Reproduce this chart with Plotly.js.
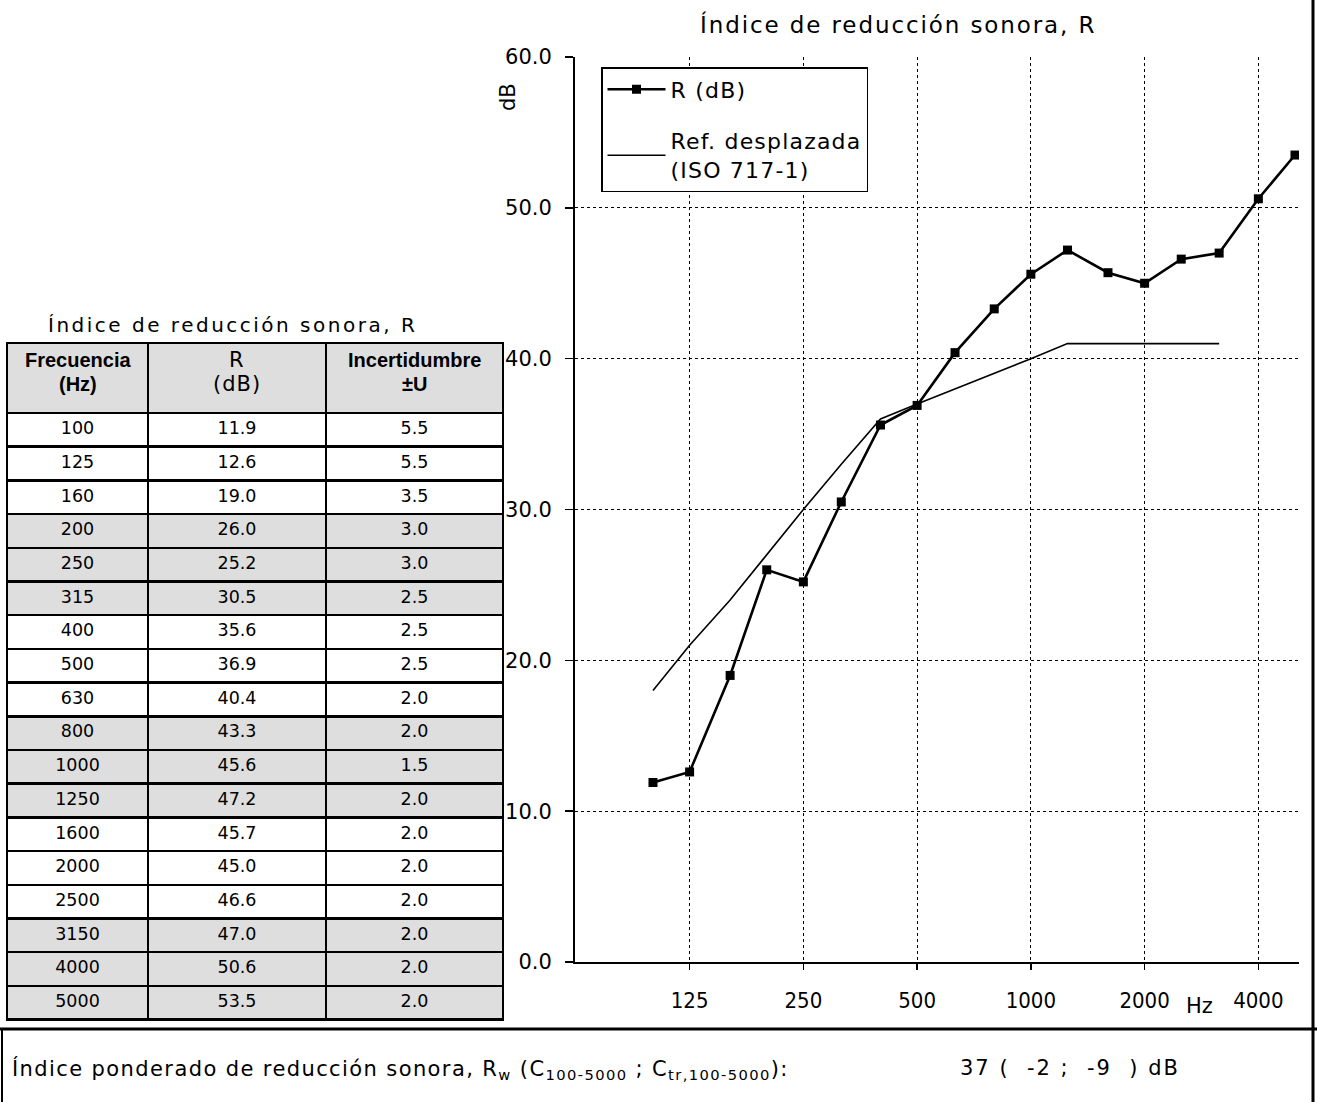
<!DOCTYPE html>
<html>
<head>
<meta charset="utf-8">
<script src="https://cdn.plot.ly/plotly-3.0.1.min.js"></script>
<style>
  html, body { margin: 0; padding: 0; background: #ffffff; }
  #chart { width: 1317px; height: 1102px; }
</style>
</head>
<body>
<div id="chart"></div>
<script>
// ---- Data ----
const frequencies = [100, 125, 160, 200, 250, 315, 400, 500, 630, 800, 1000, 1250, 1600, 2000, 2500, 3150, 4000, 5000];
const rValues = [11.9, 12.6, 19.0, 26.0, 25.2, 30.5, 35.6, 36.9, 40.4, 43.3, 45.6, 47.2, 45.7, 45.0, 46.6, 47.0, 50.6, 53.5];
const uncertainty = [5.5, 5.5, 3.5, 3.0, 3.0, 2.5, 2.5, 2.5, 2.0, 2.0, 1.5, 2.0, 2.0, 2.0, 2.0, 2.0, 2.0, 2.0];
const refFrequencies = [100, 125, 160, 200, 250, 315, 400, 500, 630, 800, 1000, 1250, 1600, 2000, 2500, 3150];
const refShifted = [18, 21, 24, 27, 30, 33, 36, 37, 38, 39, 40, 41, 41, 41, 41, 41];
const xTickVals = [125, 250, 500, 1000, 2000, 4000];
const xTickText = ['125', '250', '500', '1000', '2000', '4000'];
const yTickVals = [0, 10, 20, 30, 40, 50, 60];
const yTickText = ['0.0', '10.0', '20.0', '30.0', '40.0', '50.0', '60.0'];
const shadedFrequencies = [200, 250, 315, 800, 1000, 1250, 3150, 4000, 5000];
const tableHeaderLines = [['Frecuencia', '(Hz)'], ['R', '(dB)'], ['Incertidumbre', '±U']];
const tableHeaderBold = [true, false, true];
const chartTitle = 'Índice de reducción sonora, R';
const tableTitle = 'Índice de reducción sonora, R';
const legendR = 'R (dB)';
const legendRefLines = ['Ref. desplazada', '(ISO 717-1)'];
const weightedLabel = 'Índice ponderado de reducción sonora, R<sub>w</sub> (C<sub>100-5000</sub> ; C<sub>tr,100-5000</sub>):';
const weightedValue = '37 (  -2 ;  -9  ) dB';

// ---- Helpers ----
const W = 1317, H = 1102;
const px = v => v / W;
const py = v => 1 - v / H;
const SHADE = '#dedede';
const rowFill = frequencies.map(f => shadedFrequencies.includes(f) ? SHADE : '#ffffff');
const FONT = 'DejaVu Sans, Verdana, sans-serif';
const BOLDFONT = 'Liberation Sans, Arial, sans-serif';
const spaced = (t, s) => '<span style="letter-spacing:' + s + 'px">' + t + '</span>';

// table geometry (pixels)
const colEdges = [7, 148, 326, 503];
const tableTop = 343, headerH = 70, tableBottom = 1021;
const headerLineY = [360, 384];

const traces = [
  {
    type: 'scatter',
    mode: 'lines+markers',
    x: frequencies,
    y: rValues,
    name: spaced(legendR, 1.2),
    legendgroup: 'a',
    line: { color: '#000000', width: 2.6 },
    marker: { symbol: 'square', size: 9, color: '#000000' },
    xaxis: 'x', yaxis: 'y'
  },
  {
    type: 'scatter',
    mode: 'lines',
    x: refFrequencies,
    y: refShifted,
    name: legendRefLines.map(t => spaced(t, 1.2)).join('<br>'),
    legendgroup: 'b',
    line: { color: '#000000', width: 1.6 },
    xaxis: 'x', yaxis: 'y'
  },
  {
    type: 'table',
    domain: { x: [px(colEdges[0]), px(colEdges[3])], y: [py(tableBottom), py(tableTop)] },
    columnwidth: [colEdges[1] - colEdges[0], colEdges[2] - colEdges[1], colEdges[3] - colEdges[2]],
    header: {
      values: ['', '', ''],
      align: 'center',
      height: headerH,
      fill: { color: SHADE },
      line: { color: '#000000', width: 2.5 },
      font: { family: FONT, size: 17, color: '#000000' }
    },
    cells: {
      values: [
        frequencies.map(String),
        rValues.map(v => v.toFixed(1)),
        uncertainty.map(v => v.toFixed(1))
      ],
      align: 'center',
      height: 33.7,
      fill: { color: [rowFill, rowFill, rowFill] },
      line: { color: '#000000', width: 2.5 },
      font: { family: FONT, size: 17.5, color: '#000000' }
    }
  }
];

const annotations = [
  { text: spaced(chartTitle, 1.9), x: px(898), y: py(25), xref: 'paper', yref: 'paper', xanchor: 'center', yanchor: 'middle', showarrow: false, font: { family: FONT, size: 23, color: '#000000' } },
  { text: 'dB', x: px(508), y: py(97), xref: 'paper', yref: 'paper', xanchor: 'center', yanchor: 'middle', textangle: -90, showarrow: false, font: { family: FONT, size: 21, color: '#000000' } },
  { text: 'Hz', x: px(1199), y: py(1006), xref: 'paper', yref: 'paper', xanchor: 'center', yanchor: 'middle', showarrow: false, font: { family: FONT, size: 21, color: '#000000' } },
  { text: spaced(tableTitle, 2.5), x: px(232), y: py(325), xref: 'paper', yref: 'paper', xanchor: 'center', yanchor: 'middle', showarrow: false, font: { family: FONT, size: 20, color: '#000000' } },
  { text: spaced(weightedLabel, 1.4), x: px(10), y: py(1069), xref: 'paper', yref: 'paper', xanchor: 'left', yanchor: 'middle', showarrow: false, font: { family: FONT, size: 21, color: '#000000' } },
  { text: spaced(weightedValue, 2.0), x: px(958), y: py(1068), xref: 'paper', yref: 'paper', xanchor: 'left', yanchor: 'middle', showarrow: false, font: { family: FONT, size: 21, color: '#000000' } }
];
// header labels, one line at a time, centred in each header cell
tableHeaderLines.forEach((lines, i) => {
  const cx = (colEdges[i] + colEdges[i + 1]) / 2;
  lines.forEach((l, j) => {
    annotations.push({
      text: tableHeaderBold[i] ? '<b>' + l + '</b>' : spaced(l, 1.0),
      x: px(cx), y: py(headerLineY[j]), xref: 'paper', yref: 'paper',
      xanchor: 'center', yanchor: 'middle', showarrow: false,
      font: tableHeaderBold[i]
        ? { family: BOLDFONT, size: 20, color: '#000000' }
        : { family: FONT, size: 21, color: '#000000' }
    });
  });
});

const layout = {
  width: W,
  height: H,
  margin: { l: 0, r: 0, t: 0, b: 0, pad: 0 },
  paper_bgcolor: '#ffffff',
  plot_bgcolor: '#ffffff',
  font: { family: FONT, color: '#000000' },
  showlegend: true,
  legend: {
    x: px(601), y: py(67), xanchor: 'left', yanchor: 'top',
    bgcolor: '#ffffff', bordercolor: '#000000', borderwidth: 1.5,
    font: { family: FONT, size: 22, color: '#000000' },
    tracegroupgap: 20,
    itemwidth: 58
  },
  xaxis: {
    type: 'log',
    domain: [px(575), px(1299)],
    range: [1.7936, 3.7096],
    tickvals: xTickVals,
    ticktext: xTickText,
    ticks: 'outside', ticklen: 6, tickwidth: 1.5, tickcolor: '#000000',
    ticklabelstandoff: 12,
    showline: true, linecolor: '#000000', linewidth: 2,
    showgrid: true, gridcolor: '#000000', gridwidth: 1, griddash: 'dot',
    zeroline: false,
    tickfont: { family: 'Liberation Sans Narrow, DejaVu Sans Condensed, Arial Narrow, sans-serif', size: 22, color: '#000000' },
    fixedrange: true
  },
  yaxis: {
    domain: [py(962), py(57)],
    range: [0, 60],
    tickvals: yTickVals,
    ticktext: yTickText,
    ticks: 'outside', ticklen: 8, tickwidth: 1.5, tickcolor: '#000000',
    ticklabelstandoff: 9,
    showline: true, linecolor: '#000000', linewidth: 2,
    showgrid: true, gridcolor: '#000000', gridwidth: 1, griddash: 'dot',
    zeroline: false,
    tickfont: { family: FONT, size: 21, color: '#000000' },
    fixedrange: true
  },
  annotations: annotations,
  shapes: [
    { type: 'line', xref: 'paper', yref: 'paper', x0: 0, x1: 1, y0: py(1029), y1: py(1029), line: { color: '#000000', width: 3 } },
    { type: 'line', xref: 'paper', yref: 'paper', x0: px(1313), x1: px(1313), y0: 0, y1: 1, line: { color: '#000000', width: 3 } },
    { type: 'line', xref: 'paper', yref: 'paper', x0: px(2), x1: px(2), y0: 0, y1: py(1029), line: { color: '#000000', width: 2 } }
  ]
};

Plotly.newPlot('chart', traces, layout, { displayModeBar: false, staticPlot: true });
</script>
</body>
</html>
